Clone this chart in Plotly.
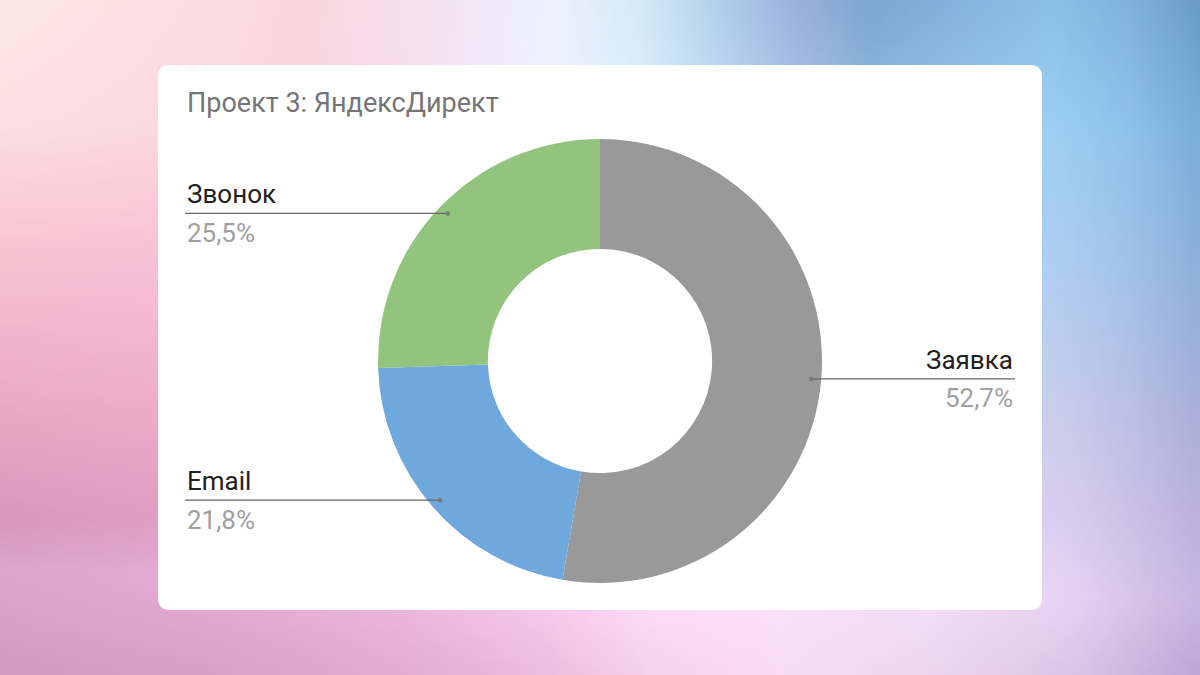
import base64
import struct
import zlib
import math
import numpy as np
import plotly.graph_objects as go

# ---------------- data ----------------
labels = ["Заявка", "Email", "Звонок"]
values = [52.7, 21.8, 25.5]
pct_text = ["52,7%", "21,8%", "25,5%"]
colors = ["#999999", "#6fa8dc", "#93c47d"]
title_text = "Проект 3: ЯндексДирект"

# ---------------- layout constants (pixels) ----------------
W, H = 1200, 675
CX, CY, R = 600, 361, 222
HOLE = 0.505
ANCHOR_R = 0.955
CARD = (158, 65, 1042, 610)
CARD_RAD = 12
LEFT_X, RIGHT_X = 185, 1015
FONT = "Roboto"
LABEL_SIZE = 26
TITLE_SIZE = 27


def px(x):
    return x / W


def py(y):
    return 1 - y / H


def hex2rgb(h):
    h = h.lstrip("#")
    return [int(h[i:i + 2], 16) for i in (0, 2, 4)]


def interp_stops(stops, t):
    pos = np.array([s[0] for s in stops], float)
    cols = np.array([hex2rgb(s[1]) for s in stops], float)
    return np.stack([np.interp(t, pos, cols[:, k]) for k in range(3)], axis=-1)


# background gradient (style only)
top_stops = [(0, "#feeae6"), (150, "#fde0e2"), (300, "#fcd6de"), (420, "#f6e0ee"),
             (500, "#f0ecfb"), (560, "#eaf2fd"), (640, "#d4eaf8"), (720, "#b0d0ec"),
             (800, "#98b0dc"), (870, "#7ca6d0"), (950, "#84b2dc"), (1050, "#8cc0e6"),
             (1130, "#80b2dc"), (1200, "#6a9cc6")]
bot_stops = [(0, "#d298c0"), (200, "#d8a0c8"), (400, "#e2acd4"), (550, "#eebee0"),
             (650, "#f6d2ec"), (780, "#f8dcf2"), (920, "#eed8f0"), (1070, "#dcc6e8"),
             (1200, "#bca8d8")]
left_stops = [(0, "#feeae6"), (120, "#fde0e2"), (250, "#f9c4d4"), (350, "#f0b4ca"),
              (430, "#e6a6c3"), (520, "#d898bc"), (575, "#dea6cf"), (675, "#d298c0")]
right_stops = [(0, "#6a9cc6"), (130, "#7aaed8"), (260, "#8cb0da"), (350, "#9cb0da"),
               (430, "#acb0da"), (520, "#bcb2de"), (600, "#c8b6e2"), (675, "#bca8d8")]

GW, GH = 160, 90
xs = (np.arange(GW) + 0.5) * W / GW
ys = (np.arange(GH) + 0.5) * H / GH
T = interp_stops(top_stops, xs)[None, :, :]
B = interp_stops(bot_stops, xs)[None, :, :]
L = interp_stops(left_stops, ys)[:, None, :]
Rr = interp_stops(right_stops, ys)[:, None, :]
u = (xs / W)[None, :, None]
v = (ys / H)[:, None, None]
T0 = np.array(hex2rgb(top_stops[0][1]), float)
T1 = np.array(hex2rgb(top_stops[-1][1]), float)
B0 = np.array(hex2rgb(bot_stops[0][1]), float)
B1 = np.array(hex2rgb(bot_stops[-1][1]), float)
img = ((1 - v) * T + v * B + (1 - u) * L + u * Rr
       - ((1 - u) * (1 - v) * T0 + u * (1 - v) * T1 + (1 - u) * v * B0 + u * v * B1))
img = np.clip(img, 0, 255).astype(np.uint8)


def png_bytes(arr):
    h, w, _ = arr.shape
    raw = b"".join(b"\x00" + arr[r].tobytes() for r in range(h))

    def chunk(tag, data):
        c = tag + data
        return struct.pack(">I", len(data)) + c + struct.pack(">I", zlib.crc32(c) & 0xffffffff)

    return (b"\x89PNG\r\n\x1a\n" + chunk(b"IHDR", struct.pack(">IIBBBBB", w, h, 8, 2, 0, 0, 0))
            + chunk(b"IDAT", zlib.compress(raw, 9)) + chunk(b"IEND", b""))


bg_src = "data:image/png;base64," + base64.b64encode(png_bytes(img)).decode()

# ---------------- figure ----------------
fig = go.Figure()
fig.add_trace(go.Pie(
    labels=labels, values=values, sort=False, direction="clockwise", rotation=0,
    hole=HOLE, marker=dict(colors=colors, line=dict(width=0)),
    textinfo="none", hoverinfo="label+percent", showlegend=False,
    domain=dict(x=[px(CX - R), px(CX + R)], y=[py(CY + R), py(CY - R)]),
))

# rounded card
x0, y0, x1, y1 = CARD
r = CARD_RAD
card_path = (
    f"M {px(x0 + r)} {py(y0)} L {px(x1 - r)} {py(y0)} Q {px(x1)} {py(y0)} {px(x1)} {py(y0 + r)} "
    f"L {px(x1)} {py(y1 - r)} Q {px(x1)} {py(y1)} {px(x1 - r)} {py(y1)} "
    f"L {px(x0 + r)} {py(y1)} Q {px(x0)} {py(y1)} {px(x0)} {py(y1 - r)} "
    f"L {px(x0)} {py(y0 + r)} Q {px(x0)} {py(y0)} {px(x0 + r)} {py(y0)} Z"
)
shapes = [dict(type="path", path=card_path, xref="paper", yref="paper",
               fillcolor="white", line=dict(width=0), layer="below")]
annotations = [dict(text=title_text, x=px(185), y=py(103.5), xref="paper", yref="paper",
                    xanchor="left", yanchor="middle", showarrow=False,
                    font=dict(family=FONT, size=TITLE_SIZE, color="#757575"))]

total = sum(values)
cum = 0.0
for lab, val, pct in zip(labels, values, pct_text):
    mid = (cum + val / 2) / total
    cum += val
    th = 2 * math.pi * mid
    ax = CX + ANCHOR_R * R * math.sin(th)
    ay = CY - ANCHOR_R * R * math.cos(th)
    right = math.sin(th) > 0
    ex = RIGHT_X if right else LEFT_X
    shapes.append(dict(type="line", xref="paper", yref="paper",
                       x0=px(ax), y0=py(ay), x1=px(ex), y1=py(ay),
                       line=dict(color="#666666", width=1.3), layer="above"))
    shapes.append(dict(type="circle", xref="paper", yref="paper",
                       x0=px(ax - 2.2), y0=py(ay - 2.2), x1=px(ax + 2.2), y1=py(ay + 2.2),
                       fillcolor="#777777", line=dict(width=0), layer="above"))
    anchor = "right" if right else "left"
    annotations.append(dict(text=lab, x=px(ex), y=py(ay - 19), xref="paper", yref="paper",
                            xanchor=anchor, yanchor="middle", showarrow=False,
                            font=dict(family=FONT, size=LABEL_SIZE, color="#212121")))
    annotations.append(dict(text=pct, x=px(ex), y=py(ay + 19.5), xref="paper", yref="paper",
                            xanchor=anchor, yanchor="middle", showarrow=False,
                            font=dict(family=FONT, size=LABEL_SIZE, color="#a0a0a0")))

fig.update_layout(
    width=W, height=H, margin=dict(l=0, r=0, t=0, b=0),
    paper_bgcolor="white", plot_bgcolor="rgba(0,0,0,0)",
    shapes=shapes, annotations=annotations,
    images=[dict(source=bg_src, xref="paper", yref="paper", x=0, y=1, sizex=1, sizey=1,
                 xanchor="left", yanchor="top", sizing="stretch", layer="below")],
    xaxis=dict(visible=False), yaxis=dict(visible=False),
)

fig.write_html("out.html")
